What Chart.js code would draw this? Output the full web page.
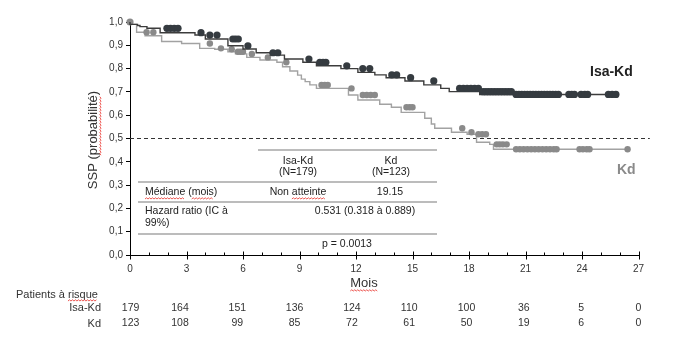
<!DOCTYPE html>
<html><head><meta charset="utf-8">
<script src="https://cdn.jsdelivr.net/npm/chart.js@4.4.1/dist/chart.umd.min.js"></script>
<style>html,body{margin:0;padding:0;background:#fff;}#wrap{width:673px;height:359px;position:relative;}</style>
</head><body><div id="wrap"><canvas id="c" width="673" height="359"></canvas></div>
<script>
// ---- Data ----
const isaTimes = [0, 0.4, 0.53, 0.9, 1.6, 3.45, 4.0, 5.2, 6.0, 6.7, 7.45, 8.2, 9.18, 9.9, 11.2, 12.1, 13.0, 13.6, 14.6, 15.6, 16.5, 16.95, 18.57, 20.42];
const isaSurv  = [1.0, 0.99, 0.985, 0.98, 0.973, 0.954, 0.944, 0.927, 0.898, 0.884, 0.868, 0.858, 0.841, 0.827, 0.812, 0.80, 0.784, 0.773, 0.761, 0.747, 0.73, 0.715, 0.701, 0.689];
const isaEnd = 25.9;
const isaCensor = [1.96, 2.15, 2.35, 2.55, 3.77, 4.24, 4.62, 5.46, 5.6, 5.75, 6.26, 7.59, 7.85, 9.5, 10.08, 10.25, 10.4, 11.51, 12.36, 12.73, 13.9, 14.16, 14.9, 16.13,
  17.5, 17.7, 17.9, 18.1, 18.3, 18.5, 18.75, 18.9, 19.05, 19.2, 19.35, 19.5, 19.65, 19.8, 19.95, 20.1, 20.25,
  20.5, 20.65, 20.8, 20.95, 21.1, 21.25, 21.4, 21.55, 21.7, 21.85, 22.0, 22.15, 22.3, 22.45, 22.6, 22.75,
  23.3, 23.45, 23.6, 23.95, 24.15, 24.3, 25.4, 25.6, 25.8];

const kdTimes = [0, 0.35, 0.8, 1.68, 2.74, 3.7, 4.5, 5.2, 5.6, 6.2, 6.9, 7.8, 8.1, 8.49, 8.9, 9.1, 9.3, 9.55, 9.9, 11.6, 12.1, 13.26, 13.88, 14.4, 15.65, 16.0, 16.18, 17.07, 17.9, 18.4, 19.1, 19.3, 20.32];
const kdSurv  = [1.0, 0.99, 0.956, 0.941, 0.916, 0.908, 0.887, 0.883, 0.872, 0.863, 0.848, 0.837, 0.827, 0.808, 0.79, 0.772, 0.755, 0.744, 0.73, 0.715, 0.687, 0.665, 0.647, 0.634, 0.612, 0.587, 0.562, 0.544, 0.527, 0.518, 0.484, 0.475, 0.454];
const kdEnd = 26.42;
const kdCensor = [0.88, 1.24, 4.24, 4.83, 5.4, 5.73, 5.87, 6.0, 6.47, 7.32, 8.3, 10.17, 10.34, 10.5, 11.76, 12.36, 12.57, 12.78, 13.0, 14.68, 14.85, 15.0,
  17.64, 18.13, 18.5, 18.7, 18.9, 19.47, 19.63, 19.8, 20.0,
  20.5, 20.7, 20.9, 21.1, 21.3, 21.5, 21.7, 21.9, 22.1, 22.3, 22.5, 22.65, 23.87, 24.05, 24.25, 24.4, 26.42];

const refLine = 0.5;
const riskMonths = [0, 3, 6, 9, 12, 15, 18, 21, 24, 27];
const isaRisk = [179, 164, 151, 136, 124, 110, 100, 36, 5, 0];
const kdRisk  = [123, 108, 99, 85, 72, 61, 50, 19, 6, 0];

const seriesNames = ['Isa-Kd', 'Kd'];
const tableHeader = [['Isa-Kd', '(N=179)'], ['Kd', '(N=123)']];
const medianRow = ['Médiane (mois)', 'Non atteinte', '19.15'];
const hrRow = ['Hazard ratio (IC à', '99%)', '0.531 (0.318 à 0.889)'];
const pText = 'p = 0.0013';

// ---- helpers ----
function stepAt(times, surv, t) { let s = surv[0]; for (let i = 0; i < times.length; i++) if (times[i] <= t) s = surv[i]; return s; }
function stepLine(times, surv, end) { const d = times.map((t, i) => ({x: t, y: surv[i]})); d.push({x: end, y: surv[surv.length - 1]}); return d; }
function censorPts(times, surv, cens) { return cens.map(t => ({x: t, y: stepAt(times, surv, t)})); }

const DARK = '#353b40', DARKLINE = '#3c3c3c', GRAY = '#8a8a8a', GRAYLINE = '#a2a2a2';
const FONT = '"Liberation Sans", Arial, sans-serif';

function squiggle(ctx, x1, x2, y) {
  ctx.save(); ctx.strokeStyle = '#e8302a'; ctx.lineWidth = 0.8; ctx.beginPath();
  let up = true; ctx.moveTo(x1, y);
  for (let x = x1 + 1.5; x <= x2; x += 1.5) { ctx.lineTo(x, up ? y - 1.2 : y); up = !up; }
  ctx.stroke(); ctx.restore();
}

const overlay = {
  id: 'overlay',
  afterDraw(chart) {
    const ctx = chart.ctx, xs = chart.scales.x, ys = chart.scales.y;
    ctx.save();
    // x-axis tick marks (inward minor, crossing major)
    ctx.strokeStyle = '#000'; ctx.lineWidth = 1;
    const yb = Math.round(ys.getPixelForValue(0)) + 0.5;
    for (let m = 0; m <= 27; m++) {
      const px = Math.round(xs.getPixelForValue(m)) + 0.5;
      ctx.beginPath();
      if (m % 3 === 0) { ctx.moveTo(px, yb - 4); ctx.lineTo(px, yb + 4); }
      else { ctx.moveTo(px, yb - 3); ctx.lineTo(px, yb); }
      ctx.stroke();
    }
    // axis titles
    ctx.fillStyle = '#333';
    ctx.font = '13px ' + FONT; ctx.textAlign = 'center'; ctx.textBaseline = 'middle';
    ctx.fillText('Mois', 364, 283);
    const mw = ctx.measureText('Mois').width; squiggle(ctx, 364 - mw / 2, 364 + mw / 2, 291);
    ctx.save(); ctx.translate(93, 140); ctx.rotate(-Math.PI / 2);
    ctx.fillText('SSP (probabilité)', 0, 0);
    const tw = ctx.measureText('SSP (probabilité)').width, pw = ctx.measureText('SSP (').width, lw = ctx.measureText('probabilité').width;
    squiggle(ctx, -tw / 2 + pw, -tw / 2 + pw + lw, 8);
    ctx.restore();
    // right-hand series labels
    ctx.font = 'bold 14px ' + FONT; ctx.textAlign = 'left';
    ctx.fillStyle = '#222'; ctx.fillText(seriesNames[0], 590, 72);
    ctx.fillStyle = GRAY; ctx.fillText(seriesNames[1], 617, 170);
    // summary table
    ctx.strokeStyle = '#a6a6a6'; ctx.lineWidth = 1.5;
    const hl = (x1, x2, y) => { ctx.beginPath(); ctx.moveTo(x1, y); ctx.lineTo(x2, y); ctx.stroke(); };
    hl(258, 437, 150); hl(138, 437, 182); hl(138, 437, 202); hl(138, 437, 234);
    ctx.fillStyle = '#222'; ctx.font = '10.5px ' + FONT; ctx.textAlign = 'center';
    ctx.fillText(tableHeader[0][0], 298, 161); ctx.fillText(tableHeader[0][1], 298, 172.5);
    ctx.fillText(tableHeader[1][0], 391, 161); ctx.fillText(tableHeader[1][1], 391, 172.5);
    ctx.fillText(medianRow[1], 298, 192.5); ctx.fillText(medianRow[2], 390, 192.5);
    ctx.fillText(hrRow[2], 365, 211.5);
    ctx.fillText(pText, 347, 244.5);
    const naW = ctx.measureText('Non ').width, atW = ctx.measureText('atteinte').width, fullW = ctx.measureText(medianRow[1]).width;
    squiggle(ctx, 298 - fullW / 2 + naW, 298 - fullW / 2 + naW + atW, 199);
    ctx.textAlign = 'left';
    ctx.fillText(medianRow[0], 145, 192.5);
    squiggle(ctx, 145, 145 + ctx.measureText('Médiane').width, 199);
    squiggle(ctx, 145 + ctx.measureText('Médiane (').width, 145 + ctx.measureText('Médiane (mois').width, 199);
    ctx.fillText(hrRow[0], 145, 211.5); ctx.fillText(hrRow[1], 145, 223);
    // number-at-risk table
    ctx.fillStyle = '#333'; ctx.font = '11px ' + FONT; ctx.textAlign = 'left';
    ctx.fillText('Patients à risque', 16, 294.5);
    squiggle(ctx, 16 + ctx.measureText('Patients à ').width, 16 + ctx.measureText('Patients à risque').width, 301);
    ctx.textAlign = 'right';
    ctx.fillText(seriesNames[0], 101, 308); ctx.fillText(seriesNames[1], 101, 323.5);
    ctx.textAlign = 'center'; ctx.font = '10.5px ' + FONT;
    riskMonths.forEach((m, k) => {
      const off = k === 0 ? 0.6 : -6.5 + 0.8 * (k - 1);
      const px = xs.getPixelForValue(m) + off;
      ctx.fillText(String(isaRisk[k]), px, 308);
      ctx.fillText(String(kdRisk[k]), px, 323.5);
    });
    ctx.restore();
  }
};

new Chart(document.getElementById('c'), {
  type: 'scatter',
  data: {
    datasets: [
      { type: 'scatter', data: censorPts(isaTimes, isaSurv, isaCensor), backgroundColor: DARK, borderColor: DARK, pointRadius: 3.6, pointBorderWidth: 0, order: 1, clip: false },
      { type: 'line', data: stepLine(isaTimes, isaSurv, isaEnd), stepped: 'after', borderColor: DARKLINE, borderWidth: 1.4, pointRadius: 0, fill: false, order: 2, clip: false },
      { type: 'scatter', data: censorPts(kdTimes, kdSurv, kdCensor), backgroundColor: GRAY, borderColor: GRAY, pointRadius: 3.2, pointBorderWidth: 0, order: 3, clip: false },
      { type: 'line', data: [{x: 0, y: 1}], backgroundColor: GRAY, pointRadius: 3.6, pointBorderWidth: 0, showLine: false, order: 3, clip: false },
      { type: 'line', data: stepLine(kdTimes, kdSurv, kdEnd), stepped: 'after', borderColor: GRAYLINE, borderWidth: 1.4, pointRadius: 0, fill: false, order: 4, clip: false },
      { type: 'line', data: [{x: 0, y: refLine}, {x: 27.6, y: refLine}], borderColor: '#333', borderWidth: 1, borderDash: [4, 3], pointRadius: 0, fill: false, order: 5, clip: false }
    ]
  },
  options: {
    responsive: false, animation: false, devicePixelRatio: 1,
    layout: { padding: { left: 0, right: 34.5, top: 22, bottom: 0 } },
    plugins: { legend: { display: false }, tooltip: { enabled: false } },
    scales: {
      x: {
        type: 'linear', min: 0, max: 27,
        afterFit(s) { s.height = 104; },
        ticks: { stepSize: 3, autoSkip: false, maxRotation: 0, color: '#333', font: { size: 10, family: FONT }, padding: 8 },
        grid: { drawOnChartArea: false, drawTicks: false },
        border: { display: true, color: '#000', width: 1 }
      },
      y: {
        min: 0, max: 1,
        afterFit(s) { s.width = 130; },
        ticks: { stepSize: 0.1, color: '#333', font: { size: 10, family: FONT }, padding: 3,
          callback: v => (Math.round(v * 10) / 10).toFixed(1).replace('.', ',') },
        grid: { drawOnChartArea: false, drawTicks: true, tickLength: 4, color: '#000' },
        border: { display: true, color: '#000', width: 1 }
      }
    }
  },
  plugins: [overlay]
});
</script></body></html>
